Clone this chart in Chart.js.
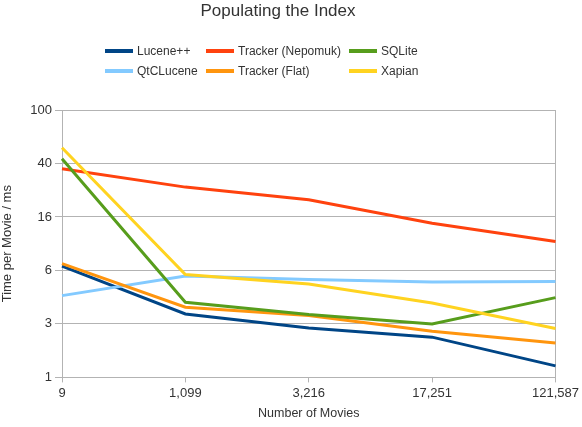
<!DOCTYPE html>
<html>
<head>
<meta charset="utf-8">
<script src="https://cdn.jsdelivr.net/npm/chart.js@4/dist/chart.umd.min.js"></script>
<style>
  html, body { margin: 0; padding: 0; background: #fff; }
  #wrap { width: 582px; height: 427px; }
</style>
</head>
<body>
<div id="wrap"><canvas id="chart"></canvas></div>
<script>
// Data
const movieCounts = ['9', '1,099', '3,216', '17,251', '121,587']

const lucenePP = [6.8, 2.98, 2.34, 2.0, 1.22]
const qtCLucene = [4.09, 5.74, 5.39, 5.18, 5.21]
const trackerNepomuk = [36.3, 26.5, 21.3, 14.2, 10.4]
const trackerFlat = [7.1, 3.35, 2.9, 2.21, 1.81]
const sqlite = [43.2, 3.65, 2.95, 2.51, 3.95]
const xapian = [52.2, 5.88, 5.0, 3.6, 2.32]

// Y axis ticks (log scale, evenly spaced) and their printed labels
const yTickValues = [1, 2.512, 6.31, 15.85, 39.81, 100]
const yTickLabels = ['1', '3', '6', '16', '40', '100']

const FONT = '"Liberation Sans", Arial, sans-serif'
const TEXT = '#333333'
const GRID = '#b3b3b3'

const series = [
    { label: 'Lucene++', data: lucenePP, color: '#004586' },
    { label: 'QtCLucene', data: qtCLucene, color: '#83caff' },
    { label: 'Tracker (Nepomuk)', data: trackerNepomuk, color: '#ff420e' },
    { label: 'Tracker (Flat)', data: trackerFlat, color: '#ff950e' },
    { label: 'SQLite', data: sqlite, color: '#579d1c' },
    { label: 'Xapian', data: xapian, color: '#ffd320' }
]

// Legend laid out in three columns, two rows (column-major)
const legendCols = [105, 206, 349]
const legendRows = [51, 71]

const columnLegend = {
    id: 'columnLegend',
    afterDraw(chart) {
        const ctx = chart.ctx
        ctx.save()
        ctx.font = '12px ' + FONT
        ctx.textBaseline = 'middle'
        ctx.textAlign = 'left'
        series.forEach((s, i) => {
            const x = legendCols[Math.floor(i / 2)]
            const y = legendRows[i % 2]
            ctx.strokeStyle = s.color
            ctx.lineWidth = 4
            ctx.beginPath()
            ctx.moveTo(x, y)
            ctx.lineTo(x + 28, y)
            ctx.stroke()
            ctx.fillStyle = TEXT
            ctx.fillText(s.label, x + 32, y + 1)
        })
        ctx.restore()
    }
}

const ctx = document.getElementById('chart').getContext('2d')
const chart = new Chart(ctx, {
    type: 'line',
    data: {
        labels: movieCounts,
        datasets: series.map((s, i) => ({
            label: s.label,
            data: s.data,
            borderColor: s.color,
            backgroundColor: s.color,
            borderWidth: 3,
            pointRadius: 0,
            tension: 0,
            order: series.length - i
        }))
    },
    options: {
        responsive: true,
        maintainAspectRatio: false,
        animation: false,
        layout: {
            padding: { left: 0, right: 26, top: 0, bottom: 3 }
        },
        plugins: {
            legend: { display: false },
            tooltip: { enabled: false },
            title: {
                display: true,
                text: 'Populating the Index',
                color: TEXT,
                font: { family: FONT, size: 17, weight: 'normal' },
                padding: { top: 1, bottom: 88.6 }
            }
        },
        scales: {
            x: {
                type: 'category',
                offset: false,
                grid: {
                    color: (c) => (c.index === 0 || c.index === movieCounts.length - 1) ? GRID : 'transparent',
                    tickColor: GRID,
                    tickLength: 5,
                    lineWidth: 1
                },
                border: { display: false },
                ticks: {
                    color: TEXT,
                    font: { family: FONT, size: 13 },
                    padding: 3,
                    maxRotation: 0,
                    autoSkip: false
                },
                title: {
                    display: true,
                    text: 'Number of Movies',
                    color: TEXT,
                    font: { family: FONT, size: 12.5 },
                    padding: { top: 2, bottom: 3 }
                }
            },
            y: {
                type: 'logarithmic',
                min: 1,
                max: 100,
                afterBuildTicks: (scale) => {
                    scale.ticks = yTickValues.map(v => ({ value: v }))
                },
                afterFit: (scale) => {
                    scale.width = 62
                },
                grid: {
                    color: GRID,
                    tickLength: 7,
                    lineWidth: 1
                },
                border: { display: true, color: GRID },
                ticks: {
                    color: TEXT,
                    font: { family: FONT, size: 13 },
                    padding: 3,
                    callback: (value, index) => yTickLabels[index]
                },
                title: {
                    display: true,
                    text: 'Time per Movie / ms',
                    color: TEXT,
                    font: { family: FONT, size: 13 },
                    padding: { top: 0, bottom: 4 }
                }
            }
        }
    },
    plugins: [columnLegend]
})
</script>
</body>
</html>
